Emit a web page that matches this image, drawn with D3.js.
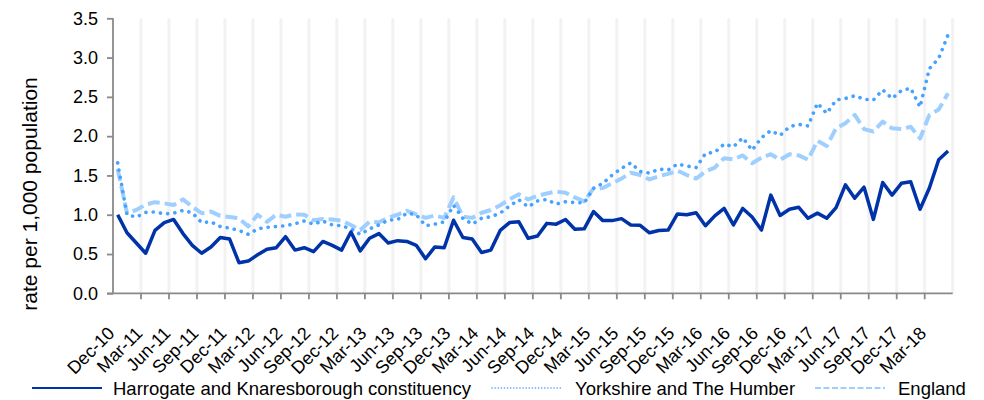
<!DOCTYPE html>
<html>
<head>
<meta charset="utf-8">
<script src="https://cdn.jsdelivr.net/npm/d3@7"></script>
<style>
  body { margin: 0; background: #fff; }
  svg { display: block; }
  text { font-family: "Liberation Sans", Arial, sans-serif; fill: #000; }
</style>
</head>
<body>
<svg id="chart" width="984" height="400"></svg>
<script>
// Monthly categories, Dec-10 to May-18
const months = [
  "Dec-10",
  "Jan-11","Feb-11","Mar-11","Apr-11","May-11","Jun-11","Jul-11","Aug-11","Sep-11","Oct-11","Nov-11","Dec-11",
  "Jan-12","Feb-12","Mar-12","Apr-12","May-12","Jun-12","Jul-12","Aug-12","Sep-12","Oct-12","Nov-12","Dec-12",
  "Jan-13","Feb-13","Mar-13","Apr-13","May-13","Jun-13","Jul-13","Aug-13","Sep-13","Oct-13","Nov-13","Dec-13",
  "Jan-14","Feb-14","Mar-14","Apr-14","May-14","Jun-14","Jul-14","Aug-14","Sep-14","Oct-14","Nov-14","Dec-14",
  "Jan-15","Feb-15","Mar-15","Apr-15","May-15","Jun-15","Jul-15","Aug-15","Sep-15","Oct-15","Nov-15","Dec-15",
  "Jan-16","Feb-16","Mar-16","Apr-16","May-16","Jun-16","Jul-16","Aug-16","Sep-16","Oct-16","Nov-16","Dec-16",
  "Jan-17","Feb-17","Mar-17","Apr-17","May-17","Jun-17","Jul-17","Aug-17","Sep-17","Oct-17","Nov-17","Dec-17",
  "Jan-18","Feb-18","Mar-18","Apr-18","May-18"
];

// Rate per 1,000 population
const harrogate = [
  1.00,0.77,0.64,0.51,0.80,0.90,0.94,0.76,0.61,0.51,
  0.59,0.71,0.69,0.39,0.41,0.49,0.56,0.58,0.72,0.55,
  0.58,0.53,0.66,0.61,0.55,0.78,0.54,0.70,0.76,0.64,
  0.67,0.66,0.61,0.44,0.59,0.58,0.93,0.71,0.69,0.52,
  0.55,0.80,0.90,0.91,0.70,0.73,0.89,0.88,0.94,0.815,
  0.82,1.04,0.925,0.925,0.95,0.87,0.865,0.77,0.80,0.805,
  1.01,1.00,1.025,0.86,0.985,1.08,0.87,1.08,0.97,0.805,
  1.25,0.99,1.07,1.095,0.955,1.02,0.955,1.09,1.38,1.21,
  1.35,0.94,1.41,1.25,1.40,1.42,1.07,1.34,1.70,1.81
];
const yorkshire = [
  1.66,1.00,0.97,1.03,1.035,1.01,1.02,1.055,1.025,0.90,
  0.91,0.85,0.83,0.80,0.75,0.82,0.84,0.85,0.86,0.885,
  0.92,0.88,0.92,0.87,0.86,0.82,0.75,0.82,0.87,0.93,
  0.94,1.02,1.00,0.86,0.88,0.91,1.12,0.955,0.88,0.955,
  0.975,1.02,1.11,1.19,1.10,1.175,1.195,1.135,1.165,1.155,
  1.15,1.335,1.40,1.505,1.59,1.66,1.55,1.53,1.58,1.57,
  1.645,1.62,1.60,1.78,1.795,1.90,1.865,1.98,1.82,1.98,
  2.07,2.01,2.12,2.15,2.13,2.42,2.29,2.46,2.48,2.515,
  2.47,2.46,2.59,2.48,2.58,2.61,2.37,2.86,2.99,3.29
];
const england = [
  1.58,1.02,1.06,1.13,1.16,1.145,1.125,1.195,1.10,1.02,
  1.04,0.985,0.97,0.955,0.85,1.00,0.91,1.00,0.975,1.005,
  1.00,0.93,0.945,0.94,0.925,0.87,0.805,0.91,0.905,0.96,
  1.00,1.05,1.005,0.96,0.99,0.96,1.22,0.975,0.96,1.025,
  1.06,1.12,1.195,1.26,1.195,1.24,1.27,1.295,1.28,1.22,
  1.17,1.335,1.34,1.40,1.46,1.535,1.505,1.45,1.49,1.52,
  1.56,1.505,1.46,1.55,1.60,1.72,1.705,1.755,1.655,1.725,
  1.77,1.70,1.77,1.755,1.70,1.94,1.875,2.10,2.165,2.27,
  2.09,2.06,2.185,2.10,2.09,2.12,1.97,2.27,2.34,2.545
];

const yTicks = [0, 0.5, 1.0, 1.5, 2.0, 2.5, 3.0, 3.5];
const seriesNames = ["Harrogate and Knaresborough constituency", "Yorkshire and The Humber", "England"];

const svg = d3.select("#chart");
const plotLeft = 113, plotRight = 952.7, plotTop = 18.3, plotBottom = 293.3;

const x = d3.scaleBand().domain(months).range([plotLeft, plotRight]).padding(0);
const y = d3.scaleLinear().domain([0, 3.5]).range([plotBottom, plotTop]);
const cx = m => x(m) + x.bandwidth() / 2;

// Quarterly boundaries carry the gridlines and tick marks
const quarterIdx = months.map((m, i) => i).filter(i => i % 3 === 0);
const gridX = quarterIdx.filter(i => i > 0).map(i => x(months[i])).concat([plotRight]);

svg.append("g").selectAll("line").data(gridX).join("line")
  .attr("x1", d => d).attr("x2", d => d)
  .attr("y1", plotTop).attr("y2", plotBottom)
  .attr("stroke", "#f2f2f2").attr("stroke-width", 3);

// Series lines
const styles = [
  { data: harrogate, color: "#0033a8", width: 3.5, dash: null, cap: "butt" },
  { data: yorkshire, color: "#45a2ff", width: 3.6, dash: "0.1,7.2", cap: "round" },
  { data: england,   color: "#9fcfff", width: 4,   dash: "12,5", cap: "butt" }
];
const line = d3.line().x((d, i) => cx(months[i])).y(d => y(d)).curve(d3.curveLinear);

// light lines first, dark line on top
[2, 1, 0].forEach(k => {
  const s = styles[k];
  svg.append("path")
    .datum(s.data)
    .attr("fill", "none")
    .attr("stroke", s.color)
    .attr("stroke-width", s.width)
    .attr("stroke-linejoin", "round")
    .attr("stroke-linecap", s.cap)
    .attr("stroke-dasharray", s.dash)
    .attr("d", line);
});

// Y axis
const yAxis = d3.axisLeft(y).tickValues(yTicks).tickFormat(d3.format(".1f")).tickSize(6).tickPadding(9);
const gy = svg.append("g").attr("transform", `translate(${plotLeft},0)`).call(yAxis);
gy.select(".domain").attr("stroke", "#898989").attr("stroke-width", 1.8).attr("d", `M0,${plotTop}V${plotBottom}`);
gy.selectAll(".tick line").attr("stroke", "#898989").attr("stroke-width", 1.8);
gy.selectAll(".tick text").attr("font-size", 18).attr("fill", "#000")
  .style("font-family", '"Liberation Sans", Arial, sans-serif');

// X axis line and quarterly tick marks
svg.append("line").attr("x1", plotLeft - 6).attr("x2", plotRight).attr("y1", plotBottom).attr("y2", plotBottom)
  .attr("stroke", "#898989").attr("stroke-width", 1.8);
svg.append("g").selectAll("line").data(quarterIdx.filter(i => i > 0)).join("line")
  .attr("x1", i => x(months[i])).attr("x2", i => x(months[i]))
  .attr("y1", plotBottom).attr("y2", plotBottom + 6)
  .attr("stroke", "#898989").attr("stroke-width", 1.8);

// Rotated quarterly labels
svg.append("g").selectAll("text").data(quarterIdx).join("text")
  .attr("transform", i => `translate(${cx(months[i]) - 2},${plotBottom + 41}) rotate(-45)`)
  .attr("text-anchor", "end")
  .attr("font-size", 18)
  .text(i => months[i]);

// Y axis title
svg.append("text")
  .attr("transform", `translate(37,194) rotate(-90)`)
  .attr("text-anchor", "middle")
  .attr("font-size", 21)
  .text("rate per 1,000 population");

// Legend
const legendY = 388;
const legend = [
  { x1: 32, x2: 102, tx: 113, color: "#0033a8", dash: null, cap: "butt", w: 2 },
  { x1: 492, x2: 562, tx: 575, color: "#45a2ff", dash: "0.1,3", cap: "round", w: 1.6 },
  { x1: 815, x2: 885, tx: 898, color: "#9fcfff", dash: "6,2.5", cap: "butt", w: 1.8 }
];
const lg = svg.append("g");
legend.forEach((l, k) => {
  lg.append("line").attr("x1", l.x1).attr("x2", l.x2).attr("y1", legendY).attr("y2", legendY)
    .attr("stroke", l.color).attr("stroke-width", l.w)
    .attr("stroke-dasharray", l.dash).attr("stroke-linecap", l.cap);
  lg.append("text").attr("x", l.tx).attr("y", legendY + 7)
    .attr("font-size", 18.5).text(seriesNames[k]);
});
</script>
</body>
</html>
